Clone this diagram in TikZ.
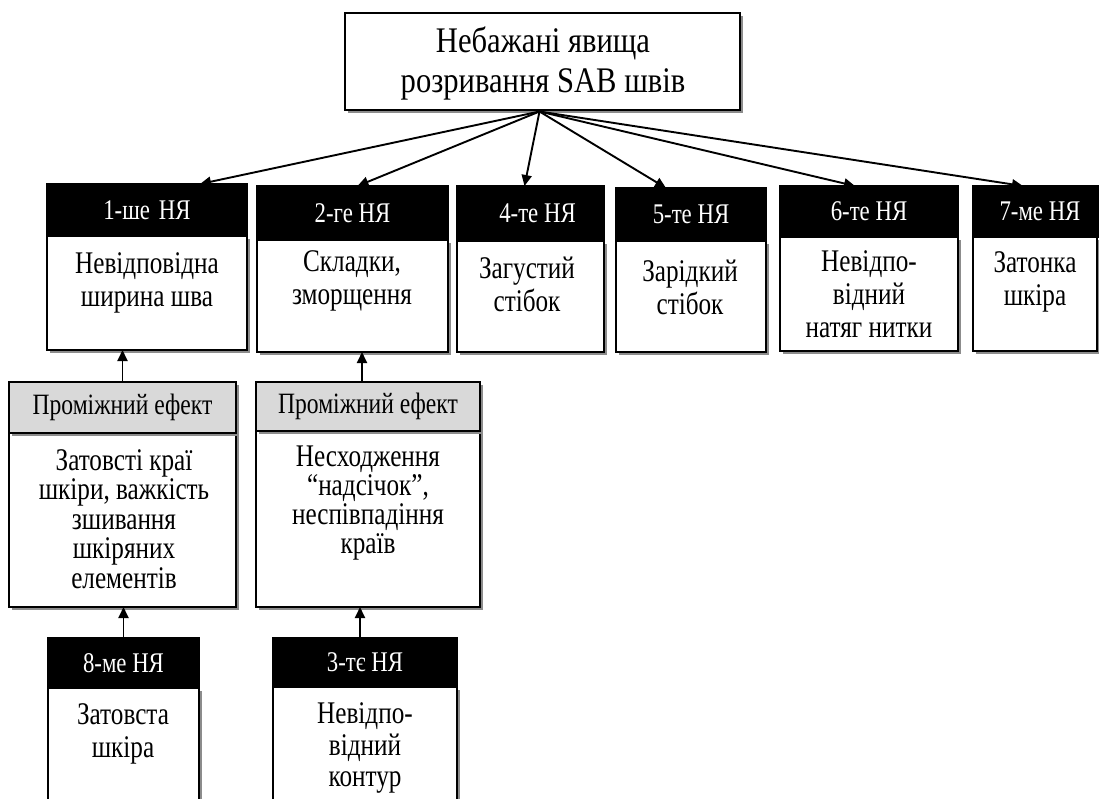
\documentclass[tikz,border=0pt]{standalone}
\usepackage{fontspec}
\setmainfont{Liberation Serif}[FakeStretch=0.8]
\newfontfamily\titlefont{Liberation Serif}[FakeStretch=0.85]
\usetikzlibrary{arrows.meta,shadows}

\begin{document}
\begin{tikzpicture}[x=1pt,y=-1pt,
  % rectangle given by its top-left and bottom-right corners
  box/.style n args={4}{minimum width={(#3-#1)*1pt}, minimum height={(#4-#2)*1pt},
    anchor=north west, at={(#1,#2)}, inner sep=0pt, outer sep=0pt},
  shade/.style={drop shadow={shadow xshift=2.5pt, shadow yshift=-2.5pt, fill=black!45, opacity=1}},
  hdr/.style={fill=black, draw=black, line width=1.2pt, text=white, font=\fontsize{28.5}{30}\selectfont},
  midhdr/.style={fill=black!15, draw=black, line width=1.5pt, shade, font=\fontsize{29.5}{30}\selectfont},
  body/.style={fill=white, draw=black, line width=1.5pt, shade},
  txt/.style={align=center, inner sep=0pt, font=\fontsize{31.5}{33}\selectfont},
  midtxt/.style={txt, font=\fontsize{31.5}{29.5}\selectfont},
  arr/.style={line width=1.9pt, -{Triangle[length=11pt,width=10pt]}}
]
\useasboundingbox (0,0) rectangle (1099,798);

% title
\node[body, box={345}{13}{740}{110}, drop shadow={shadow xshift=3pt, shadow yshift=-3pt, fill=black!45, opacity=1}] (top) {};
\node[txt, font=\titlefont\fontsize{36}{40}\selectfont] (toptxt) at (543,63) {Небажані явища\\розривання SAB швів};

% first row
\node[body, box={47}{236}{247}{350}] (b1) {};
\node[hdr, box={47}{184}{247}{236}] (h1) {1-ше\hspace{9pt}НЯ};
\node[txt] (t1) at (147,283) {Невідповідна\\ширина шва};

\node[body, box={257}{240}{448}{352}] (b2) {};
\node[hdr, box={257}{186}{448}{240}] (h2) {2-ге НЯ};
\node[txt] (t2) at (352,281) {Складки,\\зморщення};

\node[body, box={457}{241}{604}{352}] (b4) {};
\node[hdr, box={457}{186}{604}{241}] (h4) {\hspace*{14pt}4-те НЯ};
\node[txt] (t4) at (527,284) {Загустий\\стібок};

\node[body, box={616}{241}{766}{352}] (b5) {};
\node[hdr, box={616}{188}{766}{241}] (h5) {5-те НЯ};
\node[txt] (t5) at (690,287) {Зарідкий\\стібок};

\node[body, box={780}{237}{958}{351}] (b6) {};
\node[hdr, box={780}{186}{958}{237}] (h6) {6-те НЯ};
\node[txt] (t6) at (869,294) {Невідпо-\\відний\\натяг нитки};

\node[body, box={973}{237}{1097}{351}] (b7) {};
\node[hdr, box={973}{186}{1099}{237}] (h7) {\hspace*{8pt}7-ме НЯ};
\node[txt] (t7) at (1035,282) {Затонка\\шкіра};

% intermediate effects
\node[body, box={9}{433}{236}{607}] (i1) {};
\node[midhdr, box={9}{382}{236}{433}] (m1) {Проміжний ефект};
\node[midtxt] (ti1) at (124,519) {Затовсті краї\\шкіри, важкість\\зшивання\\шкіряних\\елементів};

\node[body, box={256}{431}{480}{607}] (i2) {};
\node[midhdr, box={256}{382}{480}{431}] (m2) {Проміжний ефект};
\node[midtxt, font=\fontsize{31.5}{29}\selectfont] (ti2) at (368,503) {Несходження\\“надсічок”,\\неспівпадіння\\країв};

% bottom row
\node[body, box={48}{688}{199}{820}] (b8) {};
\node[hdr, box={48}{638}{199}{688}] (h8) {8-ме НЯ};
\node[txt] (t8) at (123,734) {Затовста\\шкіра};

\node[body, box={273}{687}{457}{820}] (b3) {};
\node[hdr, box={273}{638}{457}{687}] (h3) {3-тє НЯ};
\node[txt, font=\fontsize{31.5}{31.5}\selectfont] (t3) at (365,748) {Невідпо-\\відний\\контур};

% connectors from the title box
\coordinate (hub) at ([xshift=-3pt,yshift=-1.5pt]top.south);
\draw[arr] (hub) -- ([xshift=53pt]h1.north);
\draw[arr] (hub) -- ([xshift=5pt]h2.north);
\draw[arr] (hub) -- ([xshift=-6pt]h4.north);
\draw[arr] (hub) -- ([xshift=-25pt]h5.north);
\draw[arr] (hub) -- ([xshift=-14pt]h6.north);
\draw[arr] (hub) -- ([xshift=-13pt]h7.north);

% upward connectors
\draw[arr] (m1.north) -- (m1.north |- b1.south);
\draw[arr] ([xshift=-6pt]m2.north) -- ([xshift=-6pt]m2.north |- b2.south);
\draw[arr] (h8.north) -- (h8.north |- i1.south);
\draw[arr] ([xshift=-5pt]h3.north) -- ([xshift=-5pt]h3.north |- i2.south);
\end{tikzpicture}
\end{document}
